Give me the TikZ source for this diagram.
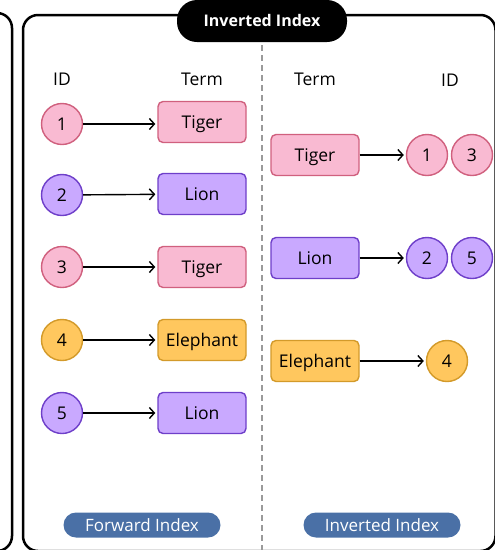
\documentclass[tikz,border=0pt]{standalone}
\usepackage{fontspec}
\setmainfont{Open Sans}
\usetikzlibrary{arrows.meta}
\definecolor{pinkf}{HTML}{F9BAD2}
\definecolor{pinkd}{HTML}{D0607E}
\definecolor{purf}{HTML}{C9A9FF}
\definecolor{purd}{HTML}{6E3FC9}
\definecolor{orf}{HTML}{FFC75E}
\definecolor{ord}{HTML}{D39A2A}
\definecolor{pillblue}{HTML}{4A70A6}
\definecolor{dashgray}{HTML}{9A9A9A}
\begin{document}
\begin{tikzpicture}[x=1pt,y=-1pt,
  txt/.style={font=\fontsize{17.5}{17.5}\selectfont, text=black, text height=12.5pt, text depth=0pt},
  idc/.style={circle, draw, line width=1.4pt, minimum size=41pt, inner sep=0pt, txt},
  termbox/.style={rounded corners=5pt, draw, line width=1.4pt, minimum width=88pt, minimum height=41pt, inner sep=0pt, txt},
  pk/.style={fill=pinkf, draw=pinkd},
  pu/.style={fill=purf, draw=purd},
  og/.style={fill=orf, draw=ord},
  arr/.style={-{Straight Barb[length=5pt,width=11pt]}, line width=1.4pt, shorten >=2pt},
  panel/.style={draw=black, line width=2.5pt, rounded corners=15pt},
  pill/.style={fill=pillblue, rounded corners=12.5pt, minimum width=157pt, minimum height=25pt, inner sep=0pt, text=white, font=\fontsize{17}{17}\selectfont, text height=12.1pt, text depth=0pt}
]
\useasboundingbox (0,0) rectangle (495,550);
% panels
\draw[panel] (-30,13) -- (12,13) -- (12,551) -- (-30,551);
\draw[panel] (23,15) rectangle (495.5,551);
% dashed divider
\coordinate (dtop) at (262,45);
\coordinate (dbot) at (262,552);
\draw[dashgray, line width=1.2pt, dash pattern=on 6pt off 4pt] (dtop) -- (dbot);
% title
\node[fill=black, rounded corners=20pt, minimum width=170pt, minimum height=42pt, inner sep=0pt,
  text=white, font=\bfseries\fontsize{16}{16}\selectfont, text height=11.4pt, text depth=0pt] (title) at (262,21) {Inverted Index};
% headers
\node[txt] (hid1) at (62,79) {ID};
\node[txt] (hterm1) at (202,79) {Term};
\node[txt] (hterm2) at (315,79) {Term};
\node[txt] (hid2) at (450,80) {ID};
% forward index
\node[idc, pk] (f1) at (62,124) {1};
\node[idc, pu] (f2) at (62,195) {2};
\node[idc, pk] (f3) at (62,267) {3};
\node[idc, og] (f4) at (62,340) {4};
\node[idc, pu] (f5) at (62,413) {5};
\node[termbox, pk] (t1) at (202,122) {Tiger};
\node[termbox, pu] (t2) at (202,194) {Lion};
\node[termbox, pk] (t3) at (202,267) {Tiger};
\node[termbox, og] (t4) at (202,340) {Elephant};
\node[termbox, pu] (t5) at (202,413) {Lion};
\draw[arr] (f1.east) -- (f1.east -| t1.west);
\draw[arr] (f2) -- (t2);
\draw[arr] (f3) -- (t3);
\draw[arr] (f4) -- (t4);
\draw[arr] (f5) -- (t5);
% inverted index
\node[termbox, pk] (r1) at (315,155) {Tiger};
\node[termbox, pu] (r2) at (315,258) {Lion};
\node[termbox, og] (r3) at (315,361) {Elephant};
\node[idc, pk] (c1) at (427,155) {1};
\node[idc, pk] (c3) at (472,155) {3};
\node[idc, pu] (c2) at (427,258) {2};
\node[idc, pu] (c5) at (472,258) {5};
\node[idc, og] (c4) at (447,361) {4};
\draw[arr] (r1) -- (c1);
\draw[arr] (r2) -- (c2);
\draw[arr] (r3) -- (c4);
% bottom pills
\node[pill] (fwd) at (142,525) {Forward Index};
\node[pill] (inv) at (382,525) {Inverted Index};
\end{tikzpicture}
\end{document}
